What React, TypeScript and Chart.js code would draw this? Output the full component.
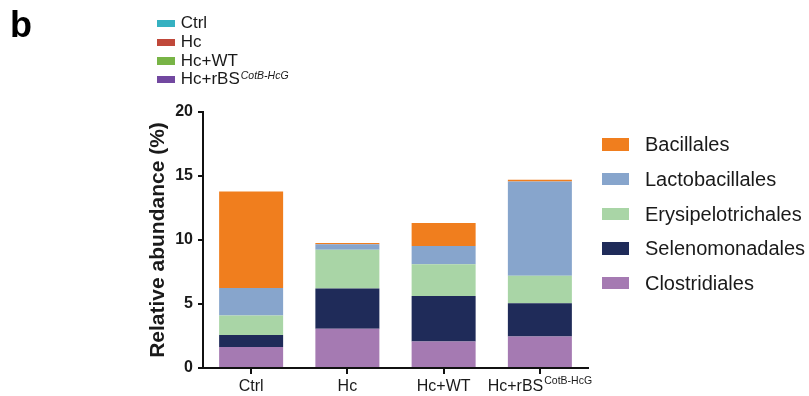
import React, { useEffect, useRef } from 'react';
import { Chart, registerables } from 'chart.js';

Chart.register(...registerables);

const FONT = '"Liberation Sans", Arial, Helvetica, sans-serif';

// Categories (x axis) and their superscripts
const categories = ['Ctrl', 'Hc', 'Hc+WT', 'Hc+rBS'];
const categorySup = ['', '', '', 'CotB-HcG'];

// Stacked series values (bottom to top)
const clostridiales = [1.64, 3.07, 2.08, 2.47];
const selenomonadales = [0.94, 3.15, 3.55, 2.58];
const erysipelotrichales = [1.53, 3.02, 2.47, 2.16];
const lactobacillales = [2.14, 0.42, 1.43, 7.37];
const bacillales = [7.53, 0.11, 1.8, 0.13];

const yMin = 0;
const yMax = 20;
const yStep = 5;

const seriesNames = ['Clostridiales', 'Selenomonadales', 'Erysipelotrichales', 'Lactobacillales', 'Bacillales'];
const seriesColors = ['#A57AB2', '#1F2B59', '#A9D5A6', '#87A5CC', '#F07E1E'];
const seriesValues = [clostridiales, selenomonadales, erysipelotrichales, lactobacillales, bacillales];

// Group legend (top-left)
const groupNames = ['Ctrl', 'Hc', 'Hc+WT', 'Hc+rBS'];
const groupSup = ['', '', '', 'CotB-HcG'];
const groupColors = ['#35B1C1', '#C0483A', '#78B446', '#7248A0'];

const xLabelPlugin = {
  id: 'xLabelPlugin',
  afterDraw(chart: any) {
    const ctx = chart.ctx;
    const xs = chart.scales.x;
    const base = chart.chartArea.bottom;
    ctx.save();
    ctx.fillStyle = '#1a1a1a';
    ctx.textBaseline = 'alphabetic';
    ctx.textAlign = 'left';
    categories.forEach((c: string, i: number) => {
      const x = xs.getPixelForValue(i);
      ctx.font = `16px ${FONT}`;
      const w1 = ctx.measureText(c).width;
      const sup = categorySup[i];
      ctx.font = `10.5px ${FONT}`;
      const w2 = sup ? ctx.measureText(sup).width + 1 : 0;
      const start = x - (w1 + w2) / 2;
      ctx.font = `16px ${FONT}`;
      ctx.fillText(c, start, base + 23);
      if (sup) {
        ctx.font = `10.5px ${FONT}`;
        ctx.fillText(sup, start + w1 + 1, base + 16);
      }
    });
    ctx.restore();
  },
};

export default function App() {
  const canvasRef = useRef<HTMLCanvasElement | null>(null);

  useEffect(() => {
    const canvas = canvasRef.current;
    if (!canvas) return;
    const chart = new Chart(canvas, {
      type: 'bar',
      data: {
        labels: categories,
        datasets: seriesNames.map((name, i) => ({
          label: name,
          data: seriesValues[i],
          backgroundColor: seriesColors[i],
          borderWidth: 0,
          categoryPercentage: 1,
          barPercentage: 0.665,
        })),
      },
      options: {
        responsive: false,
        animation: false,
        devicePixelRatio: 1,
        layout: { padding: { left: 140, right: 221, top: 112, bottom: 0 } },
        plugins: {
          legend: { display: false },
          tooltip: { enabled: false },
        },
        scales: {
          x: {
            stacked: true,
            offset: true,
            afterFit: (scale: any) => {
              scale.height = 28;
            },
            grid: {
              display: true,
              offset: false,
              drawOnChartArea: false,
              drawTicks: true,
              tickLength: 6,
              color: '#111',
              lineWidth: 2,
            },
            border: { display: true, color: '#111', width: 2 },
            ticks: { color: 'rgba(0,0,0,0)', font: { size: 16, family: FONT } },
          },
          y: {
            stacked: true,
            min: yMin,
            max: yMax,
            afterFit: (scale: any) => {
              scale.width = 63;
            },
            grid: {
              display: true,
              drawOnChartArea: false,
              drawTicks: true,
              tickLength: 5,
              color: '#111',
              lineWidth: 2,
            },
            border: { display: true, color: '#111', width: 2 },
            ticks: {
              stepSize: yStep,
              padding: 5,
              color: '#1a1a1a',
              font: { size: 16, weight: 'bold', family: FONT },
            },
            title: {
              display: true,
              text: 'Relative abundance (%)',
              color: '#1a1a1a',
              font: { size: 21, weight: 'bold', family: FONT },
              padding: { top: 6, bottom: 0 },
            },
          },
        },
      },
      plugins: [xLabelPlugin],
    } as any);
    return () => chart.destroy();
  }, []);

  const legendOrder = [...seriesNames.keys()].reverse();

  return (
    <div
      style={{
        position: 'absolute',
        left: 0,
        top: 0,
        width: 809,
        height: 396,
        background: '#fff',
        fontFamily: FONT,
        color: '#1a1a1a',
      }}
    >
      <canvas ref={canvasRef} width={809} height={396} style={{ position: 'absolute', left: 0, top: 0, width: 809, height: 396 }} />
      <div style={{ position: 'absolute', left: 10, top: 6.5, fontSize: 36, lineHeight: '36px', fontWeight: 'bold', color: '#000' }}>b</div>
      <div style={{ position: 'absolute', left: 157, top: 14.4 }}>
        {groupNames.map((g, i) => (
          <div key={g} style={{ display: 'flex', alignItems: 'center', height: 18.7, whiteSpace: 'nowrap' }}>
            <div style={{ width: 17.7, height: 7.3, background: groupColors[i], marginRight: 6 }} />
            <span style={{ fontSize: 17, lineHeight: '18.7px' }}>
              {g}
              {groupSup[i] ? (
                <span style={{ fontSize: 10.5, fontStyle: 'italic', position: 'relative', top: -4.5, marginLeft: 1 }}>{groupSup[i]}</span>
              ) : null}
            </span>
          </div>
        ))}
      </div>
      <div style={{ position: 'absolute', left: 602, top: 127.15 }}>
        {legendOrder.map((i) => (
          <div key={seriesNames[i]} style={{ display: 'flex', alignItems: 'center', height: 34.7, whiteSpace: 'nowrap' }}>
            <div style={{ width: 27.3, height: 12.3, background: seriesColors[i], marginRight: 15.7 }} />
            <span style={{ fontSize: 20, lineHeight: '34.7px' }}>{seriesNames[i]}</span>
          </div>
        ))}
      </div>
    </div>
  );
}
